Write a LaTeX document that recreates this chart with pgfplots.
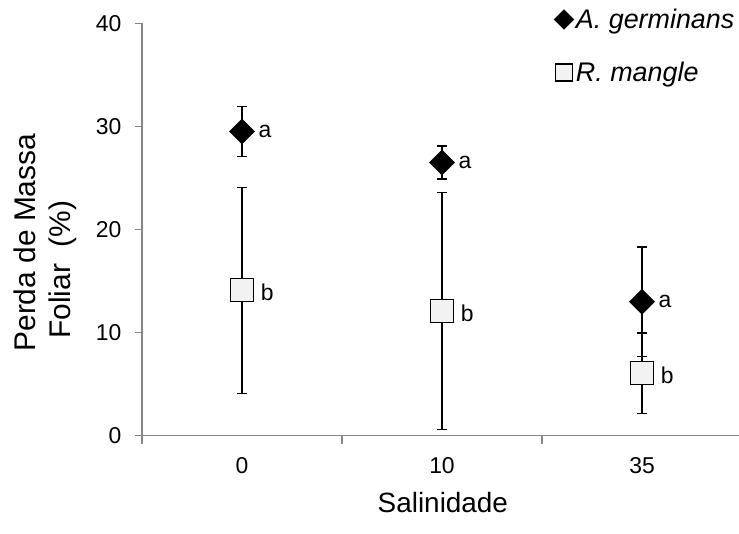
\documentclass[border=0pt]{standalone}
\usepackage{fontspec}
\setmainfont{Liberation Sans}
\usepackage{pgfplots}
\usepackage{pgfplotstable}
\pgfplotsset{compat=1.18}
\usetikzlibrary{calc}
\definecolor{axisgray}{HTML}{868686}
\definecolor{boxfill}{HTML}{F2F2F2}

% salinity index, mean, error, letter
\pgfplotstableread{
x y e lab
0 29.5 2.4 a
1 26.5 1.6 a
2 13.0 5.3 a
}\germ
\pgfplotstableread{
x y e lab
0 14.1 10.0 b
1 12.1 11.5 b
2 6.05 3.9 b
}\mangle

\begin{document}
\begin{tikzpicture}
\begin{axis}[
  name=ax,
  scale only axis, width=597bp, height=412.4bp,
  xmin=-0.5, xmax=2.485, ymin=0, ymax=40,
  axis x line*=bottom, axis y line*=left,
  axis line style={axisgray, line width=1.2bp},
  tick align=outside, major tick length=7bp, minor tick length=8bp,
  tick style={axisgray, line width=1.2bp},
  xtick={0,1,2}, xticklabels={0,10,35},
  every major x tick/.append style={draw=none},
  minor xtick={-0.5,0.5,1.5},
  ytick={0,10,20,30,40},
  /pgf/number format/assume math mode=true,
  tick label style={font=\fontsize{23}{27}\selectfont, black},
  xticklabel style={yshift=-11bp},
  yticklabel style={xshift=-10bp},
  xlabel={Salinidade},
  xlabel style={font=\fontsize{28}{32}\selectfont, at={(axis description cs:0.504,-0.161)}, anchor=center},
  ylabel={Perda de Massa\\Foliar\ \ (\%)\hspace*{54bp}},
  ylabel style={font=\fontsize{30}{35}\selectfont, align=center, at={(axis description cs:-0.162,0.468)}, anchor=center},
  legend style={draw=none, fill=none, at={(rel axis cs:0.69,1.04)}, anchor=north west,
    font=\itshape\fontsize{27}{31}\selectfont, row sep=28bp, inner sep=0pt},
  legend cell align=left,
  legend image code/.code={\draw[#1] plot coordinates {(0bp,0bp)};},
  clip=false,
]
% error bars first so the markers sit on top
\addplot[forget plot, only marks, mark=none,
  error bars/.cd, y dir=both, y explicit,
  error bar style={black, line width=1.3bp},
  error mark options={rotate=90, mark size=5bp, black, line width=1.3bp}]
  table[x=x, y=y, y error=e] {\mangle};
\addplot[forget plot, only marks, mark=none,
  error bars/.cd, y dir=both, y explicit,
  error bar style={black, line width=1.3bp},
  error mark options={rotate=90, mark size=5bp, black, line width=1.3bp}]
  table[x=x, y=y, y error=e] {\germ};

\addplot[forget plot, only marks, mark=square*, mark size=11.5bp,
  mark options={fill=boxfill, draw=black, line width=1.3bp},
  nodes near coords, point meta=explicit symbolic,
  nodes near coords align={anchor=west},
  every node near coord/.append style={xshift=15bp, yshift=-2bp, font=\fontsize{23}{27}\selectfont, black}]
  table[x=x, y=y, meta=lab] {\mangle};
\addplot[forget plot, only marks, mark=square*, mark size=8.9bp,
  mark options={rotate=45, fill=black, draw=black},
  nodes near coords, point meta=explicit symbolic,
  nodes near coords align={anchor=west},
  every node near coord/.append style={xshift=13bp, font=\fontsize{23}{27}\selectfont, black}]
  table[x=x, y=y, meta=lab] {\germ};

\addlegendimage{only marks, mark=square*, mark size=7bp, mark options={rotate=45, fill=black, draw=black}}
\addlegendentry{A. germinans}
\addlegendimage{only marks, mark=square*, mark size=8.5bp, mark options={fill=boxfill, draw=black, line width=1.2bp}}
\addlegendentry{R. mangle}
\end{axis}
\pgfresetboundingbox
\path[use as bounding box] ($(ax.south west)+(-142bp,-98.3bp)$) rectangle ($(ax.north east)+(0,23.3bp)$);
\end{tikzpicture}
\end{document}
